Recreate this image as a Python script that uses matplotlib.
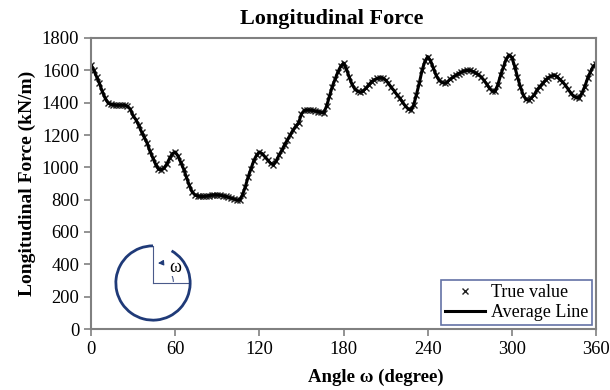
import matplotlib
matplotlib.use("Agg")
import matplotlib.pyplot as plt
from matplotlib.patches import Arc, FancyArrowPatch

plt.rcParams['font.family'] = ['Liberation Serif', 'DejaVu Serif']

# Data (angle in degrees, force in kN/m)
angles = list(range(0, 361, 2))
force = [1635, 1600, 1560, 1520, 1470, 1430, 1400, 1390, 1388, 1385,
         1385, 1385, 1385, 1378, 1360, 1320, 1295, 1260, 1220, 1185,
         1150, 1100, 1060, 1020, 990, 985, 995, 1020, 1055, 1085,
         1095, 1070, 1030, 990, 940, 890, 850, 830, 823, 820,
         820, 822, 825, 828, 830, 830, 828, 825, 820, 815,
         810, 805, 798, 800, 830, 880, 940, 990, 1040, 1075,
         1095, 1085, 1065, 1045, 1025, 1015, 1040, 1075, 1105, 1140,
         1170, 1200, 1230, 1255, 1275, 1330, 1352, 1355, 1355, 1352,
         1348, 1345, 1340, 1338, 1380, 1440, 1500, 1545, 1590, 1625,
         1645, 1610, 1560, 1515, 1485, 1470, 1465, 1472, 1490, 1510,
         1530, 1542, 1550, 1555, 1552, 1540, 1520, 1495, 1475, 1450,
         1430, 1405, 1380, 1362, 1355, 1385, 1450, 1520, 1600, 1655,
         1685, 1660, 1615, 1570, 1540, 1525, 1520, 1528, 1545, 1558,
         1570, 1580, 1590, 1597, 1600, 1600, 1594, 1585, 1575, 1560,
         1540, 1515, 1490, 1472, 1470, 1510, 1570, 1620, 1670, 1695,
         1680, 1625, 1560, 1500, 1450, 1420, 1415, 1430, 1450, 1480,
         1500, 1520, 1540, 1555, 1565, 1570, 1562, 1545, 1530, 1510,
         1485, 1460, 1440, 1432, 1430, 1460, 1500, 1550, 1590, 1625,
         1640]
xticks = [0, 60, 120, 180, 240, 300, 360]
yticks = [0, 200, 400, 600, 800, 1000, 1200, 1400, 1600, 1800]

fig = plt.figure(figsize=(6.1, 3.9), dpi=100)
ax = fig.add_axes([91/610, 61/390, 505/610, 291/390])

ax.plot(angles, force, linestyle='none', marker='x', color='#222222',
        markersize=5, markeredgewidth=1.0, label='True value')
ax.plot(angles, force, color='black', linewidth=2.2, label='Average Line')

ax.set_xlim(0, 360)
ax.set_ylim(0, 1800)
ax.set_xticks(xticks)
ax.set_yticks(yticks)
ax.tick_params(direction='out', length=5, width=1.2, color='#808080',
               labelsize=13.3)
for s in ax.spines.values():
    s.set_color('#808080')
    s.set_linewidth(1.5)

ax.set_title('Longitudinal Force', fontsize=16, fontweight='bold', pad=10, x=0.477)
ax.set_xlabel('Angle \u03c9 (degree)', fontsize=13.5, fontweight='bold')
ax.xaxis.set_label_coords(0.564, -0.138)
ax.set_ylabel('Longitudinal Force (kN/m)', fontsize=14, fontweight='bold', labelpad=4)

leg = ax.legend(loc='lower right', fontsize=13, frameon=True, fancybox=False,
                borderpad=0.25, handlelength=2.2, handletextpad=0.3,
                labelspacing=0.15, borderaxespad=0.2)
leg.get_frame().set_edgecolor('#3c4f8f')
leg.get_frame().set_linewidth(1.2)

# angle sketch
ins = fig.add_axes([114/610, (390-322)/390, 78/610, 78/390])
ins.set_xlim(-1.05, 1.05)
ins.set_ylim(-1.05, 1.05)
ins.set_aspect('equal')
ins.axis('off')
ins.patch.set_alpha(0)
navy = '#1f3a78'
ins.plot([0, 0], [0, 1], color='#4a5a8a', linewidth=0.8)
ins.plot([0, 1], [0, 0], color='#4a5a8a', linewidth=0.8)
ins.add_patch(Arc((0, 0), 1.1, 1.1, theta1=3, theta2=30, color='#4a5a8a', linewidth=0.8))
ins.add_patch(FancyArrowPatch((0.3, 0.5), (0.06, 0.52), arrowstyle='-|>',
                              connectionstyle='arc3,rad=0.2',
                              mutation_scale=8, color=navy, linewidth=0.8))
ins.text(0.6, 0.42, '\u03c9', fontsize=13, ha='center', va='center', zorder=3,
         bbox=dict(facecolor='white', edgecolor='none', pad=0.3))
ins.add_patch(Arc((0, 0), 2, 2, theta1=90, theta2=420, color=navy,
                  linewidth=2, zorder=5))

fig.savefig('out.png', dpi=100)
